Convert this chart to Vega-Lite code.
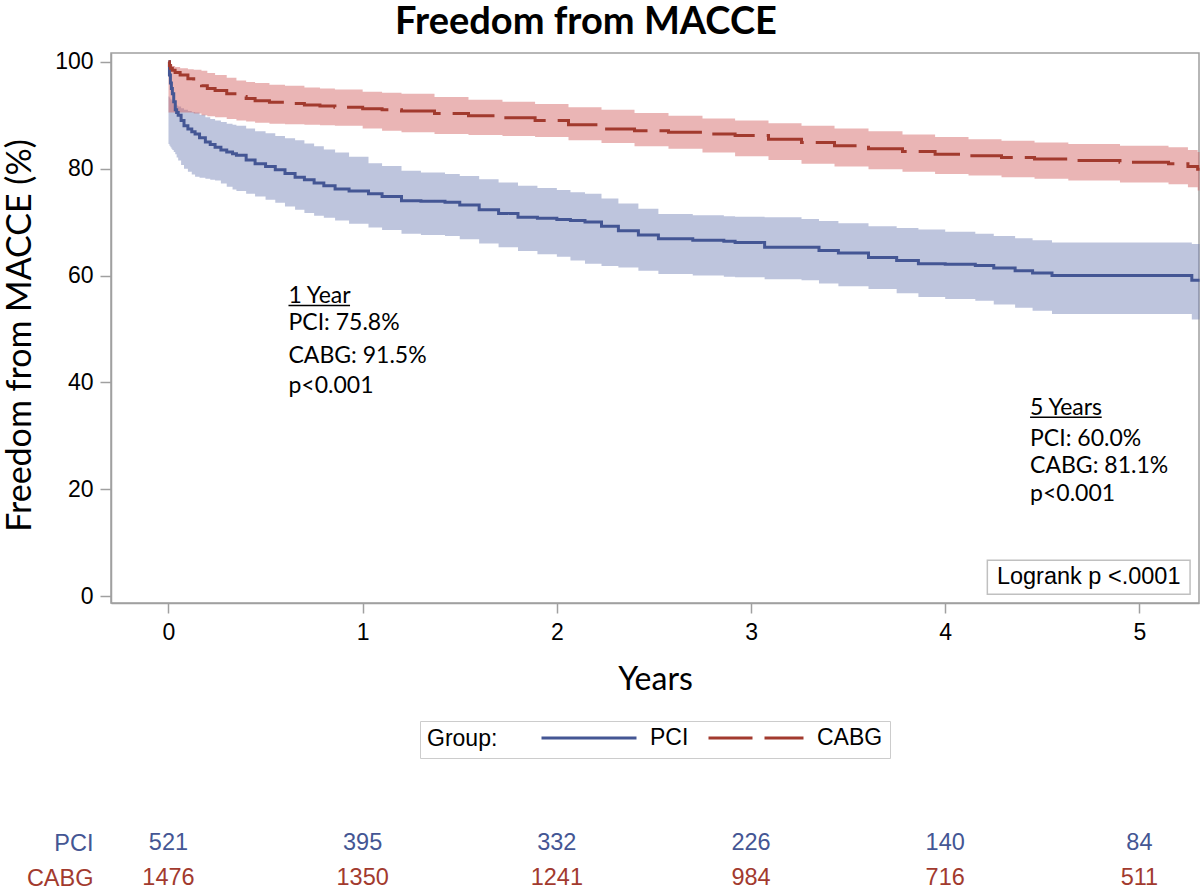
{
  "$schema": "https://vega.github.io/schema/vega-lite/v6.json",
  "padding": {"left": 2, "top": 2, "right": 0, "bottom": 0},
  "background": "white",
  "config": {"view": {"stroke": null}, "font": "Liberation Sans"},
  "bounds": "flush",
  "spacing": 233,
  "resolve": {"scale": {"stroke": "independent", "strokeDash": "independent"}, "legend": {"stroke": "independent", "strokeDash": "independent"}},
  "datasets": {
    "km": [
      {"group": "PCI", "t": 0, "s": 100, "lo": 84.6, "hi": 93.5},
      {"group": "PCI", "t": 0.005, "s": 97.5, "lo": 84.3, "hi": 93.3},
      {"group": "PCI", "t": 0.01, "s": 96, "lo": 84, "hi": 93},
      {"group": "PCI", "t": 0.015, "s": 95, "lo": 83.7, "hi": 92.8},
      {"group": "PCI", "t": 0.02, "s": 94, "lo": 83.5, "hi": 92.6},
      {"group": "PCI", "t": 0.027, "s": 92.5, "lo": 83.1, "hi": 92.3},
      {"group": "PCI", "t": 0.035, "s": 91, "lo": 82.7, "hi": 92},
      {"group": "PCI", "t": 0.042, "s": 90.5, "lo": 82.1, "hi": 91.8},
      {"group": "PCI", "t": 0.05, "s": 90, "lo": 81.5, "hi": 91.6},
      {"group": "PCI", "t": 0.065, "s": 89, "lo": 80.7, "hi": 91.3},
      {"group": "PCI", "t": 0.08, "s": 88, "lo": 80, "hi": 91},
      {"group": "PCI", "t": 0.1, "s": 87.4, "lo": 79.4, "hi": 90.8},
      {"group": "PCI", "t": 0.12, "s": 86.9, "lo": 78.9, "hi": 90.6},
      {"group": "PCI", "t": 0.137, "s": 86.5, "lo": 78.5, "hi": 90.5},
      {"group": "PCI", "t": 0.16, "s": 85.8, "lo": 78.3, "hi": 90.1},
      {"group": "PCI", "t": 0.19, "s": 85.0, "lo": 78.1, "hi": 89.6},
      {"group": "PCI", "t": 0.215, "s": 84.5, "lo": 77.9, "hi": 89.3},
      {"group": "PCI", "t": 0.24, "s": 84.0, "lo": 77.8, "hi": 89.0},
      {"group": "PCI", "t": 0.27, "s": 83.5, "lo": 77.2, "hi": 88.7},
      {"group": "PCI", "t": 0.3, "s": 83.1, "lo": 76.6, "hi": 88.4},
      {"group": "PCI", "t": 0.33, "s": 82.8, "lo": 76.1, "hi": 88.2},
      {"group": "PCI", "t": 0.35, "s": 82.5, "lo": 75.8, "hi": 88.0},
      {"group": "PCI", "t": 0.4, "s": 81.6, "lo": 75.3, "hi": 87.5},
      {"group": "PCI", "t": 0.446, "s": 80.9, "lo": 74.8, "hi": 87.0},
      {"group": "PCI", "t": 0.5, "s": 80.4, "lo": 74.2, "hi": 86.6},
      {"group": "PCI", "t": 0.55, "s": 79.8, "lo": 73.6, "hi": 86.1},
      {"group": "PCI", "t": 0.6, "s": 79.1, "lo": 72.9, "hi": 85.7},
      {"group": "PCI", "t": 0.652, "s": 78.4, "lo": 72.3, "hi": 85.3},
      {"group": "PCI", "t": 0.7, "s": 77.9, "lo": 71.7, "hi": 84.7},
      {"group": "PCI", "t": 0.75, "s": 77.3, "lo": 71.2, "hi": 84.2},
      {"group": "PCI", "t": 0.8, "s": 76.8, "lo": 70.8, "hi": 83.6},
      {"group": "PCI", "t": 0.858, "s": 76.2, "lo": 70.3, "hi": 83.0},
      {"group": "PCI", "t": 0.93, "s": 75.8, "lo": 69.7, "hi": 82.2},
      {"group": "PCI", "t": 1.03, "s": 75.3, "lo": 69.0, "hi": 81.0},
      {"group": "PCI", "t": 1.1, "s": 74.8, "lo": 68.5, "hi": 80.5},
      {"group": "PCI", "t": 1.2, "s": 74.0, "lo": 67.8, "hi": 79.6},
      {"group": "PCI", "t": 1.3, "s": 73.9, "lo": 67.6, "hi": 79.3},
      {"group": "PCI", "t": 1.424, "s": 73.7, "lo": 67.4, "hi": 79.0},
      {"group": "PCI", "t": 1.5, "s": 73.2, "lo": 66.8, "hi": 78.6},
      {"group": "PCI", "t": 1.6, "s": 72.3, "lo": 66.0, "hi": 78.0},
      {"group": "PCI", "t": 1.7, "s": 71.6, "lo": 65.3, "hi": 77.4},
      {"group": "PCI", "t": 1.8, "s": 70.9, "lo": 64.6, "hi": 76.8},
      {"group": "PCI", "t": 1.9, "s": 70.7, "lo": 64.0, "hi": 76.4},
      {"group": "PCI", "t": 2.0, "s": 70.5, "lo": 63.5, "hi": 76.0},
      {"group": "PCI", "t": 2.07, "s": 70.3, "lo": 62.8, "hi": 75.6},
      {"group": "PCI", "t": 2.145, "s": 70.0, "lo": 62.2, "hi": 75.3},
      {"group": "PCI", "t": 2.23, "s": 69.2, "lo": 61.8, "hi": 74.4},
      {"group": "PCI", "t": 2.317, "s": 68.4, "lo": 61.5, "hi": 73.5},
      {"group": "PCI", "t": 2.42, "s": 67.6, "lo": 60.9, "hi": 72.5},
      {"group": "PCI", "t": 2.523, "s": 66.9, "lo": 60.3, "hi": 71.5},
      {"group": "PCI", "t": 2.7, "s": 66.6, "lo": 60.0, "hi": 71.3},
      {"group": "PCI", "t": 2.86, "s": 66.4, "lo": 59.8, "hi": 71.1},
      {"group": "PCI", "t": 2.918, "s": 66.2, "lo": 59.7, "hi": 71.0},
      {"group": "PCI", "t": 3.07, "s": 65.3, "lo": 59.3, "hi": 70.9},
      {"group": "PCI", "t": 3.26, "s": 65.3, "lo": 59.1, "hi": 70.6},
      {"group": "PCI", "t": 3.35, "s": 64.7, "lo": 58.5, "hi": 70.2},
      {"group": "PCI", "t": 3.45, "s": 64.2, "lo": 58.0, "hi": 69.8},
      {"group": "PCI", "t": 3.605, "s": 63.4, "lo": 57.5, "hi": 69.2},
      {"group": "PCI", "t": 3.75, "s": 62.8, "lo": 56.7, "hi": 68.9},
      {"group": "PCI", "t": 3.862, "s": 62.2, "lo": 56.0, "hi": 68.6},
      {"group": "PCI", "t": 4.0, "s": 62.1, "lo": 55.6, "hi": 68.2},
      {"group": "PCI", "t": 4.155, "s": 61.9, "lo": 55.3, "hi": 67.8},
      {"group": "PCI", "t": 4.25, "s": 61.4, "lo": 54.6, "hi": 67.4},
      {"group": "PCI", "t": 4.36, "s": 60.9, "lo": 54.0, "hi": 67.0},
      {"group": "PCI", "t": 4.45, "s": 60.5, "lo": 53.4, "hi": 66.6},
      {"group": "PCI", "t": 4.55, "s": 60.0, "lo": 52.8, "hi": 66.2},
      {"group": "PCI", "t": 5.27, "s": 59.1, "lo": 51.8, "hi": 65.9},
      {"group": "PCI", "t": 5.31, "s": 59.1, "lo": 51.8, "hi": 65.9},
      {"group": "CABG", "t": 0, "s": 100, "lo": 90.5, "hi": 100},
      {"group": "CABG", "t": 0.005, "s": 99.3, "lo": 90.5, "hi": 99.8},
      {"group": "CABG", "t": 0.01, "s": 98.8, "lo": 90.5, "hi": 99.5},
      {"group": "CABG", "t": 0.02, "s": 98.4, "lo": 90.5, "hi": 99.2},
      {"group": "CABG", "t": 0.034, "s": 98.0, "lo": 90.5, "hi": 99.0},
      {"group": "CABG", "t": 0.06, "s": 97.5, "lo": 90.5, "hi": 98.8},
      {"group": "CABG", "t": 0.1, "s": 96.8, "lo": 90.5, "hi": 98.6},
      {"group": "CABG", "t": 0.13, "s": 96.2, "lo": 90.3, "hi": 98.5},
      {"group": "CABG", "t": 0.17, "s": 95.5, "lo": 90.0, "hi": 98.3},
      {"group": "CABG", "t": 0.2, "s": 95.0, "lo": 89.8, "hi": 97.9},
      {"group": "CABG", "t": 0.24, "s": 94.6, "lo": 89.6, "hi": 97.5},
      {"group": "CABG", "t": 0.3, "s": 94.0, "lo": 89.3, "hi": 97.0},
      {"group": "CABG", "t": 0.35, "s": 93.5, "lo": 89.0, "hi": 96.5},
      {"group": "CABG", "t": 0.4, "s": 93.1, "lo": 88.8, "hi": 96.2},
      {"group": "CABG", "t": 0.446, "s": 92.7, "lo": 88.6, "hi": 96.0},
      {"group": "CABG", "t": 0.52, "s": 92.4, "lo": 88.4, "hi": 95.7},
      {"group": "CABG", "t": 0.6, "s": 92.2, "lo": 88.3, "hi": 95.5},
      {"group": "CABG", "t": 0.7, "s": 91.9, "lo": 88.2, "hi": 95.2},
      {"group": "CABG", "t": 0.78, "s": 91.7, "lo": 88.1, "hi": 95.0},
      {"group": "CABG", "t": 0.857, "s": 91.5, "lo": 88.0, "hi": 94.8},
      {"group": "CABG", "t": 1.0, "s": 91.2, "lo": 87.5, "hi": 94.4},
      {"group": "CABG", "t": 1.1, "s": 91.0, "lo": 87.1, "hi": 94.2},
      {"group": "CABG", "t": 1.2, "s": 90.8, "lo": 86.8, "hi": 94.0},
      {"group": "CABG", "t": 1.37, "s": 90.3, "lo": 86.5, "hi": 93.4},
      {"group": "CABG", "t": 1.545, "s": 89.9, "lo": 86.3, "hi": 92.9},
      {"group": "CABG", "t": 1.72, "s": 89.5, "lo": 86.1, "hi": 92.5},
      {"group": "CABG", "t": 1.888, "s": 89.0, "lo": 85.9, "hi": 92.1},
      {"group": "CABG", "t": 2.06, "s": 88.2, "lo": 85.3, "hi": 91.5},
      {"group": "CABG", "t": 2.23, "s": 87.4, "lo": 84.8, "hi": 91.0},
      {"group": "CABG", "t": 2.4, "s": 87.1, "lo": 84.2, "hi": 90.4},
      {"group": "CABG", "t": 2.575, "s": 86.8, "lo": 83.7, "hi": 89.9},
      {"group": "CABG", "t": 2.75, "s": 86.5, "lo": 83.0, "hi": 89.4},
      {"group": "CABG", "t": 2.918, "s": 86.2, "lo": 82.3, "hi": 89.0},
      {"group": "CABG", "t": 3.09, "s": 85.5, "lo": 81.6, "hi": 88.5},
      {"group": "CABG", "t": 3.26, "s": 84.9, "lo": 80.9, "hi": 88.0},
      {"group": "CABG", "t": 3.43, "s": 84.3, "lo": 80.4, "hi": 87.5},
      {"group": "CABG", "t": 3.605, "s": 83.7, "lo": 79.9, "hi": 87.0},
      {"group": "CABG", "t": 3.78, "s": 83.2, "lo": 79.4, "hi": 86.4},
      {"group": "CABG", "t": 3.948, "s": 82.7, "lo": 79.0, "hi": 85.9},
      {"group": "CABG", "t": 4.12, "s": 82.4, "lo": 78.7, "hi": 85.5},
      {"group": "CABG", "t": 4.29, "s": 82.1, "lo": 78.4, "hi": 85.2},
      {"group": "CABG", "t": 4.46, "s": 81.8, "lo": 78.1, "hi": 84.9},
      {"group": "CABG", "t": 4.634, "s": 81.5, "lo": 77.8, "hi": 84.6},
      {"group": "CABG", "t": 4.9, "s": 81.2, "lo": 77.4, "hi": 84.3},
      {"group": "CABG", "t": 5.15, "s": 80.9, "lo": 77.1, "hi": 84.0},
      {"group": "CABG", "t": 5.25, "s": 80.4, "lo": 76.5, "hi": 83.5},
      {"group": "CABG", "t": 5.3, "s": 79.9, "lo": 75.9, "hi": 83.1},
      {"group": "CABG", "t": 5.31, "s": 79.9, "lo": 75.9, "hi": 83.1}
    ],
    "risk": [
      {"group": "PCI", "t": 0, "n": "521"},
      {"group": "PCI", "t": 1, "n": "395"},
      {"group": "PCI", "t": 2, "n": "332"},
      {"group": "PCI", "t": 3, "n": "226"},
      {"group": "PCI", "t": 4, "n": "140"},
      {"group": "PCI", "t": 5, "n": "84"},
      {"group": "CABG", "t": 0, "n": "1476"},
      {"group": "CABG", "t": 1, "n": "1350"},
      {"group": "CABG", "t": 2, "n": "1241"},
      {"group": "CABG", "t": 3, "n": "984"},
      {"group": "CABG", "t": 4, "n": "716"},
      {"group": "CABG", "t": 5, "n": "511"}
    ],
    "notes": [
      {"x": 0.618, "y": 56.1, "label": "1 Year"},
      {"x": 0.618, "y": 51.1, "label": "PCI: 75.8%"},
      {"x": 0.618, "y": 45.0, "label": "CABG: 91.5%"},
      {"x": 0.618, "y": 39.3, "label": "p<0.001"},
      {"x": 4.437, "y": 35.2, "label": "5 Years"},
      {"x": 4.437, "y": 29.5, "label": "PCI: 60.0%"},
      {"x": 4.437, "y": 24.3, "label": "CABG: 81.1%"},
      {"x": 4.437, "y": 19.2, "label": "p<0.001"}
    ],
    "underlines": [
      {"x": 0.618, "x2": 0.935, "y": 54.4},
      {"x": 4.437, "x2": 4.806, "y": 33.5}
    ],
    "logrank": [
      {"x": 4.217, "x2": 5.261, "y": 6.73, "y2": 0.37, "xm": 4.739, "ym": 3.55, "label": "Logrank p <.0001"}
    ]
  },
  "vconcat": [
    {
      "title": {"text": "Freedom from MACCE", "font": "Lato", "fontSize": 38, "fontWeight": "bold", "color": "#000000", "anchor": "middle", "dx": -69, "offset": 9},
      "width": 1088,
      "height": 550,
      "view": {"stroke": "#a0a0a0", "strokeWidth": 1.5},
      "layer": [
        {
          "data": {"name": "km"},
          "mark": {"type": "area", "interpolate": "step-after", "opacity": 0.45},
          "encoding": {
            "x": {"field": "t", "type": "quantitative", "title": "Years",
              "scale": {"domain": [-0.296, 5.307], "nice": false, "zero": false},
              "axis": {"values": [0, 1, 2, 3, 4, 5], "format": "d", "grid": false, "labelFlush": false,
                "labelFont": "Liberation Sans", "labelFontSize": 23, "labelColor": "#000000", "labelPadding": 8,
                "tickSize": 10, "tickColor": "#a0a0a0", "tickWidth": 1.5, "domainColor": "#a0a0a0", "domainWidth": 1.5,
                "titleFont": "Lato", "titleFontSize": 32, "titleFontWeight": "normal", "titleColor": "#000000", "titlePadding": 20}},
            "y": {"field": "lo", "type": "quantitative", "title": "Freedom from MACCE (%)",
              "scale": {"domain": [-1.25, 101.63], "nice": false, "zero": false},
              "axis": {"values": [0, 20, 40, 60, 80, 100], "grid": false, "labelFlush": false,
                "labelFont": "Liberation Sans", "labelFontSize": 23, "labelColor": "#000000", "labelPadding": 7,
                "tickSize": 11, "tickColor": "#a0a0a0", "tickWidth": 1.5, "domainColor": "#a0a0a0", "domainWidth": 1.5,
                "titleFont": "Lato", "titleFontSize": 34, "titleFontWeight": "normal", "titleColor": "#000000", "titlePadding": 17,
                "titleY": 282, "titleAlign": "center"}},
            "y2": {"field": "hi"},
            "fill": {"field": "group", "type": "nominal", "scale": {"domain": ["PCI", "CABG"], "range": ["#6F7EB3", "#D05B5B"]}, "legend": null}
          }
        },
        {
          "data": {"name": "km"},
          "mark": {"type": "line", "interpolate": "step-after", "strokeWidth": 3},
          "encoding": {
            "x": {"field": "t", "type": "quantitative", "title": "Years"},
            "y": {"field": "s", "type": "quantitative", "title": "Freedom from MACCE (%)"},
            "stroke": {"field": "group", "type": "nominal", "title": "Group:", "scale": {"domain": ["PCI", "CABG"], "range": ["#445694", "#A23A2E"]},
              "legend": {"orient": "none", "legendX": 309, "legendY": 668, "direction": "horizontal", "titleOrient": "left",
                "titleFont": "Liberation Sans", "titleFontSize": 23, "titleFontWeight": "normal", "titleColor": "#000000", "titlePadding": 42,
                "labelFont": "Liberation Sans", "labelFontSize": 23, "labelColor": "#000000", "labelOffset": 12,
                "symbolType": "stroke", "symbolSize": 9025, "symbolStrokeWidth": 3, "columnPadding": 18, "clipHeight": 20,
                "strokeColor": "#cccccc", "padding": 7}},
            "strokeDash": {"field": "group", "type": "nominal", "title": "Group:", "scale": {"domain": ["PCI", "CABG"], "range": [[1, 0], [44, 12]]},
              "legend": {"orient": "none", "legendX": 309, "legendY": 668, "direction": "horizontal", "titleOrient": "left",
                "titleFont": "Liberation Sans", "titleFontSize": 23, "titleFontWeight": "normal", "titleColor": "#000000", "titlePadding": 42,
                "labelFont": "Liberation Sans", "labelFontSize": 23, "labelColor": "#000000", "labelOffset": 12,
                "symbolType": "stroke", "symbolSize": 9025, "symbolStrokeWidth": 3, "columnPadding": 18, "clipHeight": 20,
                "strokeColor": "#cccccc", "padding": 7}}
          }
        },
        {
          "data": {"name": "notes"},
          "mark": {"type": "text", "align": "left", "baseline": "middle", "font": "Lato", "fontSize": 23, "color": "#000000"},
          "encoding": {
            "x": {"field": "x", "type": "quantitative", "title": "Years"},
            "y": {"field": "y", "type": "quantitative", "title": "Freedom from MACCE (%)"},
            "text": {"field": "label", "type": "nominal"}
          }
        },
        {
          "data": {"name": "underlines"},
          "mark": {"type": "rule", "strokeWidth": 1.5, "color": "#000000"},
          "encoding": {
            "x": {"field": "x", "type": "quantitative", "title": "Years"},
            "x2": {"field": "x2"},
            "y": {"field": "y", "type": "quantitative", "title": "Freedom from MACCE (%)"}
          }
        },
        {
          "data": {"name": "logrank"},
          "mark": {"type": "rect", "fill": "#ffffff", "stroke": "#c0c0c0", "strokeWidth": 1.5},
          "encoding": {
            "x": {"field": "x", "type": "quantitative", "title": "Years"},
            "x2": {"field": "x2"},
            "y": {"field": "y", "type": "quantitative", "title": "Freedom from MACCE (%)"},
            "y2": {"field": "y2"}
          }
        },
        {
          "data": {"name": "logrank"},
          "mark": {"type": "text", "align": "center", "baseline": "middle", "font": "Liberation Sans", "fontSize": 23.5, "color": "#000000"},
          "encoding": {
            "x": {"field": "xm", "type": "quantitative", "title": "Years"},
            "y": {"field": "ym", "type": "quantitative", "title": "Freedom from MACCE (%)"},
            "text": {"field": "label", "type": "nominal"}
          }
        }
      ]
    },
    {
      "width": 1088,
      "height": 49,
      "data": {"name": "risk"},
      "mark": {"type": "text", "font": "Liberation Sans", "fontSize": 23.5, "baseline": "middle", "align": "center"},
      "encoding": {
        "x": {"field": "t", "type": "quantitative", "scale": {"domain": [-0.296, 5.307], "nice": false, "zero": false}, "axis": null},
        "y": {"field": "group", "type": "nominal", "scale": {"type": "point", "domain": ["PCI", "CABG"], "padding": 0.2},
          "axis": {"title": null, "domain": false, "ticks": false, "grid": false, "labelFont": "Liberation Sans", "labelFontSize": 23.5, "labelPadding": 18,
            "labelColor": {"condition": {"test": "datum.value === 'PCI'", "value": "#445694"}, "value": "#A23A2E"}}},
        "text": {"field": "n", "type": "nominal"},
        "color": {"condition": {"test": "datum.group === 'PCI'", "value": "#445694"}, "value": "#A23A2E"}
      }
    }
  ]
}
